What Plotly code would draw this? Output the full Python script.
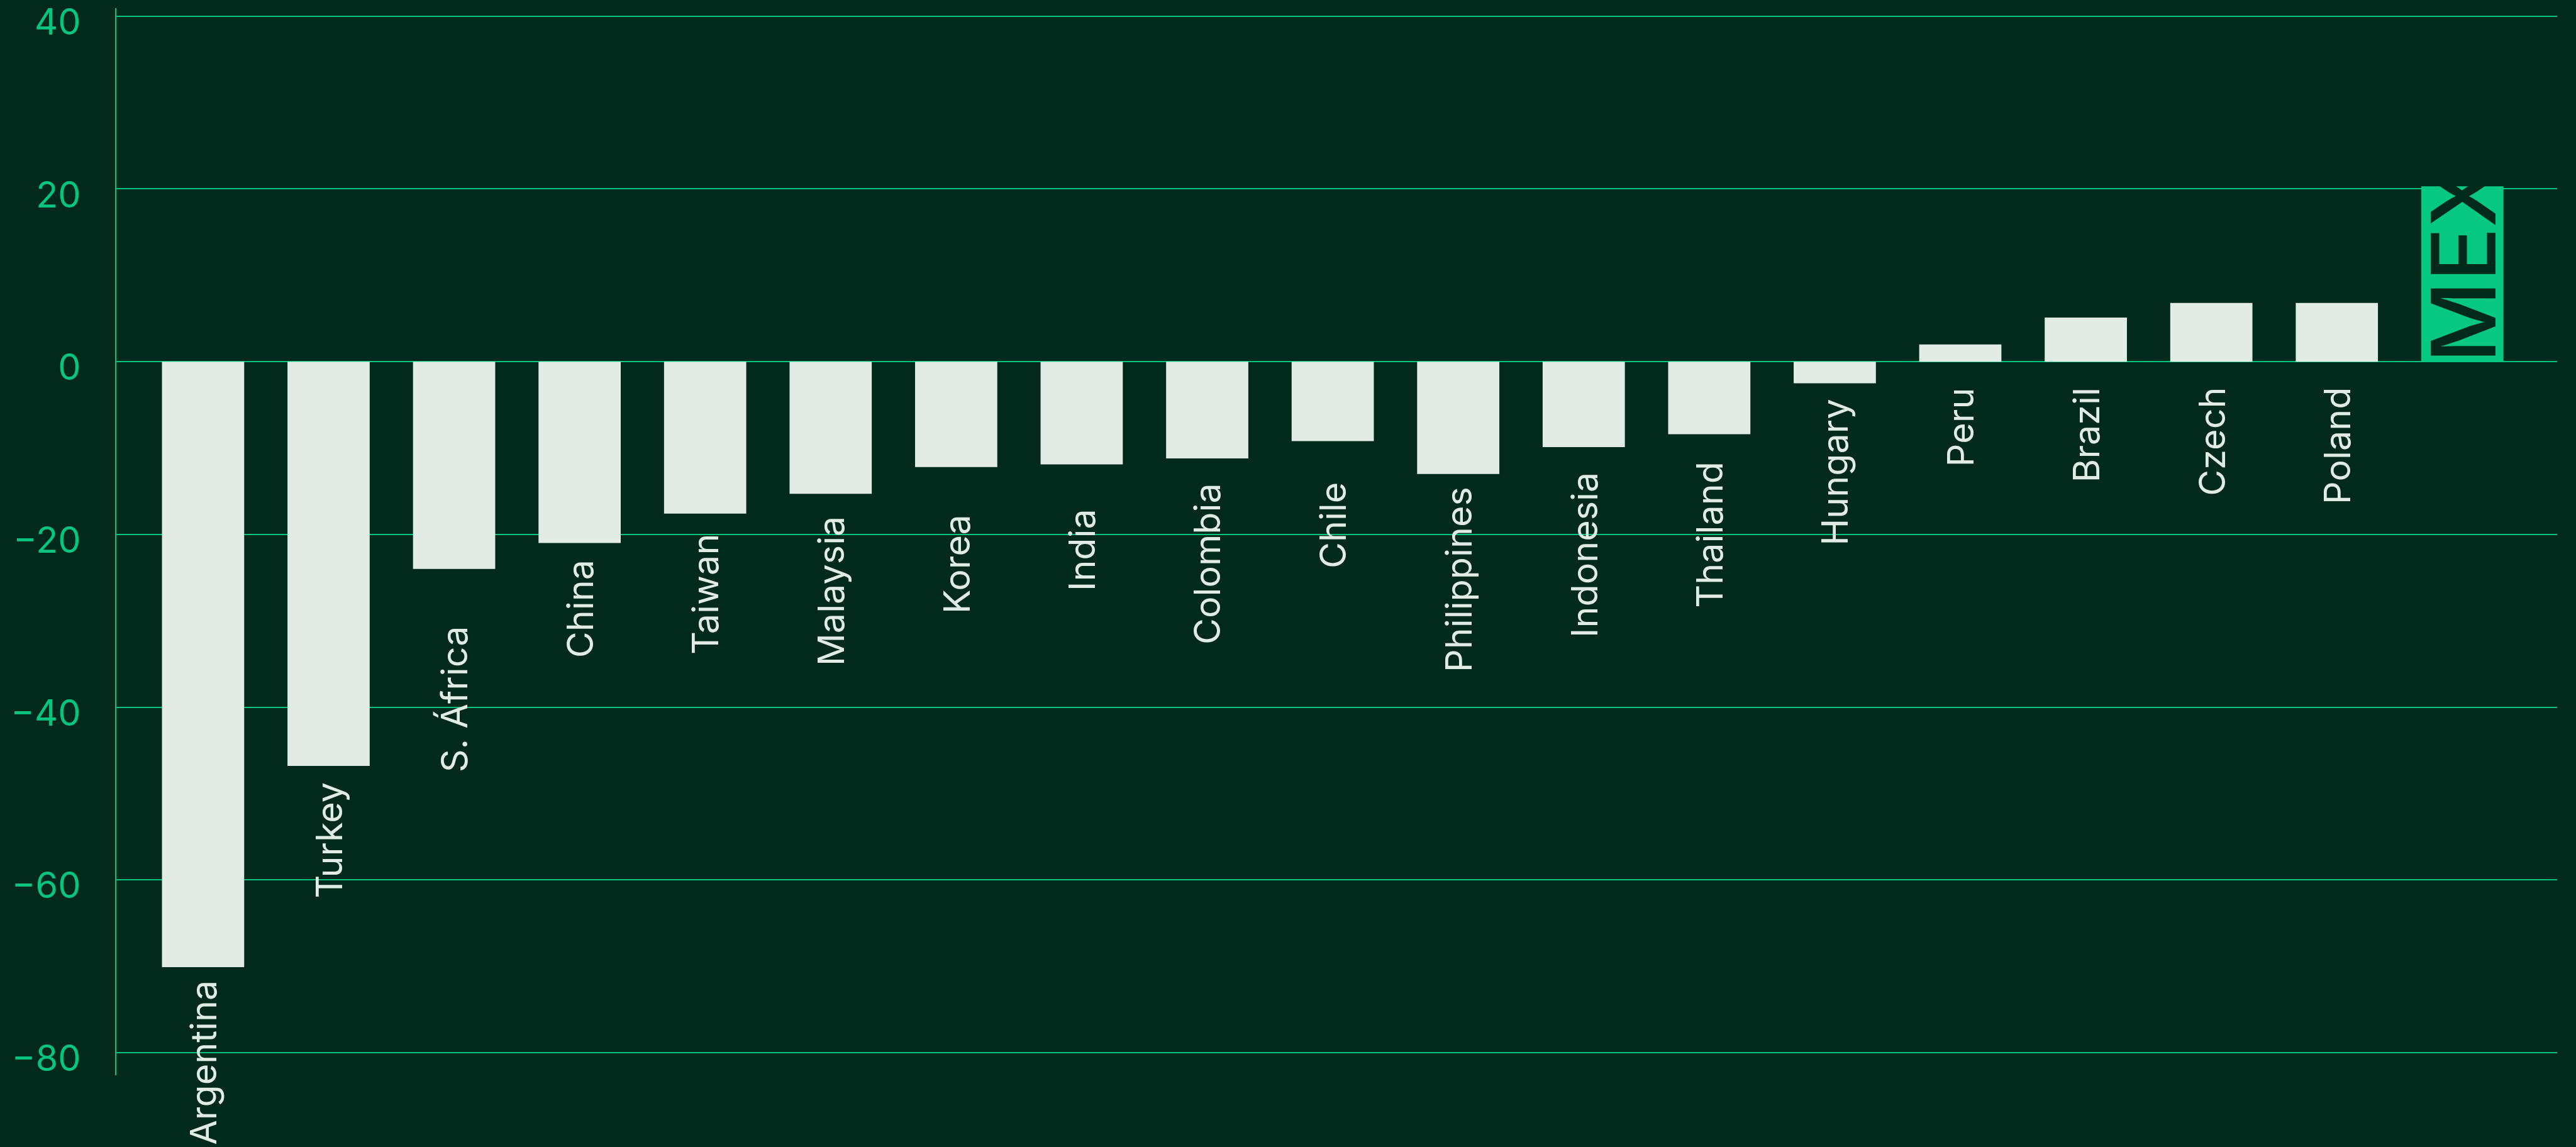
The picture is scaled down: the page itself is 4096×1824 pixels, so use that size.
import plotly.graph_objects as go

# Change by country (%), ordered as drawn
countries = [
    "Argentina", "Turkey", "S. África", "China", "Taiwan", "Malaysia",
    "Korea", "India", "Colombia", "Chile", "Philippines", "Indonesia",
    "Thailand", "Hungary", "Peru", "Brazil", "Czech", "Poland", "MEX",
]
change = [
    -70.1, -46.8, -24.0, -21.0, -17.6, -15.3,
    -12.2, -11.9, -11.2, -9.2, -13.0, -9.9,
    -8.4, -2.5, 2.0, 5.1, 6.8, 6.8, 20.3,
]
highlight = "MEX"
y_ticks = [40, 20, 0, -20, -40, -60, -80]

# space (px) left between the lower end of each bar and its rotated name
label_gap = [
    20, 25, 90, 26, 31, 35,
    74, 69, 38, 65, 19, 39,
    42, 24, 40, 40, 40, 40, 0,
]

BG = "#01291c"
GRID = "#07c580"
BAR = "#e2ece6"
ACCENT = "#06c883"
FONT = "Inter, 'Noto Sans', sans-serif"
LABEL_SIZE = 57.5

colors = [ACCENT if c == highlight else BAR for c in countries]

fig = go.Figure(
    go.Bar(
        x=countries,
        y=change,
        marker=dict(color=colors, line=dict(width=0)),
        hoverinfo="skip",
    )
)

annotations = []
for name, val, gap in zip(countries, change, label_gap):
    if name == highlight:
        # big code set inside its own bar, in the background colour
        annotations.append(dict(
            x=name, y=0, xref="x", yref="y",
            text=name, showarrow=False, textangle=-90,
            xanchor="center", yanchor="bottom", yshift=-3, borderpad=0,
            font=dict(family=FONT, size=142, color=BG, weight=500),
        ))
    else:
        annotations.append(dict(
            x=name, y=min(val, 0), xref="x", yref="y",
            text=name, showarrow=False, textangle=-90,
            xanchor="center", yanchor="top", yshift=-gap, borderpad=0,
            font=dict(family=FONT, size=LABEL_SIZE, color=BAR),
        ))

fig.update_layout(
    width=4096,
    height=1824,
    margin=dict(l=185, r=30, t=13, b=114, pad=0, autoexpand=False),
    paper_bgcolor=BG,
    plot_bgcolor=BG,
    bargap=0.345,
    showlegend=False,
    annotations=annotations,
    font=dict(family=FONT),
    xaxis=dict(
        type="category",
        range=[-0.691, 18.755],
        showticklabels=False,
        showgrid=False,
        zeroline=False,
        showline=False,
        ticks="",
        automargin=False,
    ),
    yaxis=dict(
        range=[-82.63, 40.93],
        tickmode="array",
        tickvals=y_ticks,
        showgrid=True,
        gridcolor=GRID,
        gridwidth=2.2,
        zeroline=True,
        zerolinecolor=GRID,
        zerolinewidth=2.2,
        showline=True,
        linecolor=GRID,
        linewidth=2,
        ticks="",
        ticklabelstandoff=43,
        ticklabelshift=9,
        ticklabeloverflow="allow",
        automargin=False,
        tickfont=dict(family=FONT, size=LABEL_SIZE, color=GRID),
    ),
)

fig.write_html("out.html")
